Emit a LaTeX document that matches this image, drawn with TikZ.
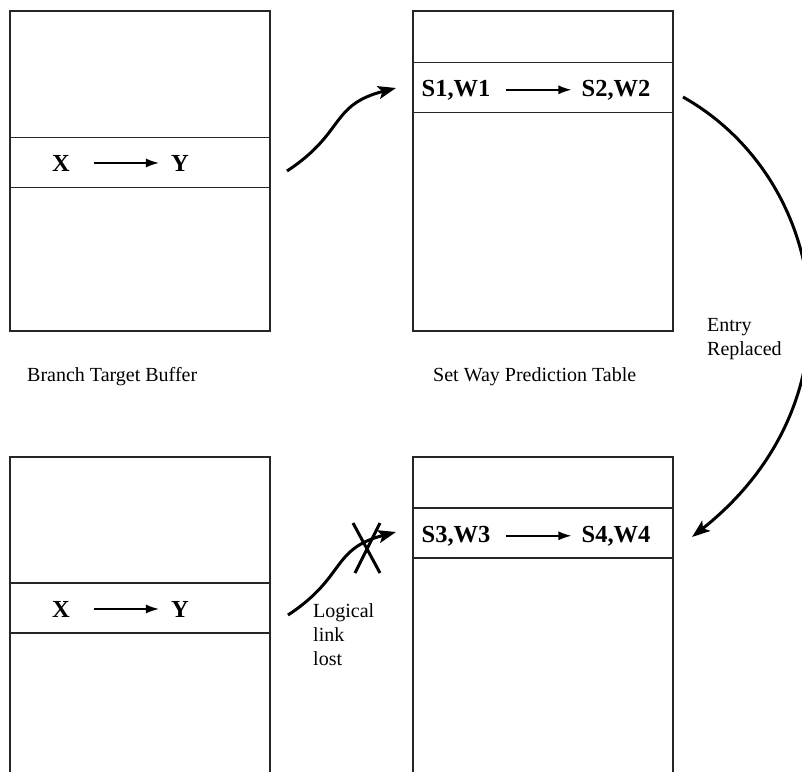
\documentclass[tikz,border=0pt]{standalone}
\usepackage{fontspec}
\setmainfont{Liberation Serif}
\usetikzlibrary{arrows.meta}
\begin{document}
\begin{tikzpicture}[x=1pt,y=-1pt,
  frame/.style={draw=black!85, line width=1.2pt},
  band/.style={draw=black!85, line width=1.2pt, minimum width=260pt, minimum height=50pt, inner sep=0pt, outer sep=0pt},
  entry/.style={font=\fontsize{24.5}{28}\selectfont\bfseries, inner sep=0pt, anchor=base},
  caption/.style={font=\fontsize{20}{24}\selectfont, inner sep=0pt, align=left},
  smallarrow/.style={line width=1.5pt, -{Latex[length=13pt,width=9pt]}},
  bigarrow/.style={line width=3pt, -{Stealth[length=18pt,width=13pt,inset=4pt]}},
  crossline/.style={line width=3pt},
]
\useasboundingbox (0,0) rectangle (802,771);
\clip (0,0) rectangle (802,771);

% boxes
\draw[frame] (10,11) rectangle (270,331);
\draw[frame] (413,11) rectangle (673,331);
\draw[frame] (10,790) -- (10,457) -- (270,457) -- (270,790);
\draw[frame] (413,790) -- (413,457) -- (673,457) -- (673,790);

% bands
\node[band] (btb1) at (140,162.5) {};
\node[band] (swp1) at (543,87.5) {};
\node[band] (btb2) at (140,608) {};
\node[band] (swp2) at (543,533) {};

% band texts
\node[entry] (x1) at (61,171) {X};
\node[entry] (y1) at (180,171) {Y};
\draw[smallarrow, shorten <=24pt, shorten >=12pt] (x1.east) -- (y1.west);

\node[entry] (s1) at (456,96) {S1,W1};
\node[entry] (s2) at (616,96) {S2,W2};
\draw[smallarrow, shorten <=15pt, shorten >=10pt] (s1.east) -- (s2.west);

\node[entry] (x2) at (61,617) {X};
\node[entry] (y2) at (180,617) {Y};
\draw[smallarrow, shorten <=24pt, shorten >=12pt] (x2.east) -- (y2.west);

\node[entry] (s3) at (456,542) {S3,W3};
\node[entry] (s4) at (616,542) {S4,W4};
\draw[smallarrow, shorten <=15pt, shorten >=10pt] (s3.east) -- (s4.west);

% captions
\node[caption, anchor=base west] (cbtb) at (27,381) {Branch Target Buffer};
\node[caption, anchor=base west] (cswp) at (433,381) {Set Way Prediction Table};
\node[caption, anchor=north west] (cent) at (707,318.5) {Entry\\Replaced};
\node[caption, anchor=north west] (clog) at (313,603.5) {Logical\\link\\lost};

% curved arrows
\coordinate (a1s) at (287,171);
\coordinate (a1e) at (396,88);
\draw[bigarrow] (a1s) .. controls (345,133) and (330,105) .. (a1e);

\coordinate (a2s) at (288,615);
\coordinate (a2e) at (396,532);
\draw[bigarrow] (a2s) .. controls (346,577) and (331,549) .. (a2e);

\coordinate (a3s) at (683,97);
\coordinate (a3e) at (692,537);
\draw[bigarrow] (a3s) .. controls (830,180) and (865,400) .. (a3e);

% cross
\coordinate (k1) at (353,523);
\coordinate (k2) at (380,573);
\coordinate (k3) at (380,523);
\coordinate (k4) at (355,573);
\draw[crossline] (k1) -- (k2);
\draw[crossline] (k3) -- (k4);
\end{tikzpicture}
\end{document}
